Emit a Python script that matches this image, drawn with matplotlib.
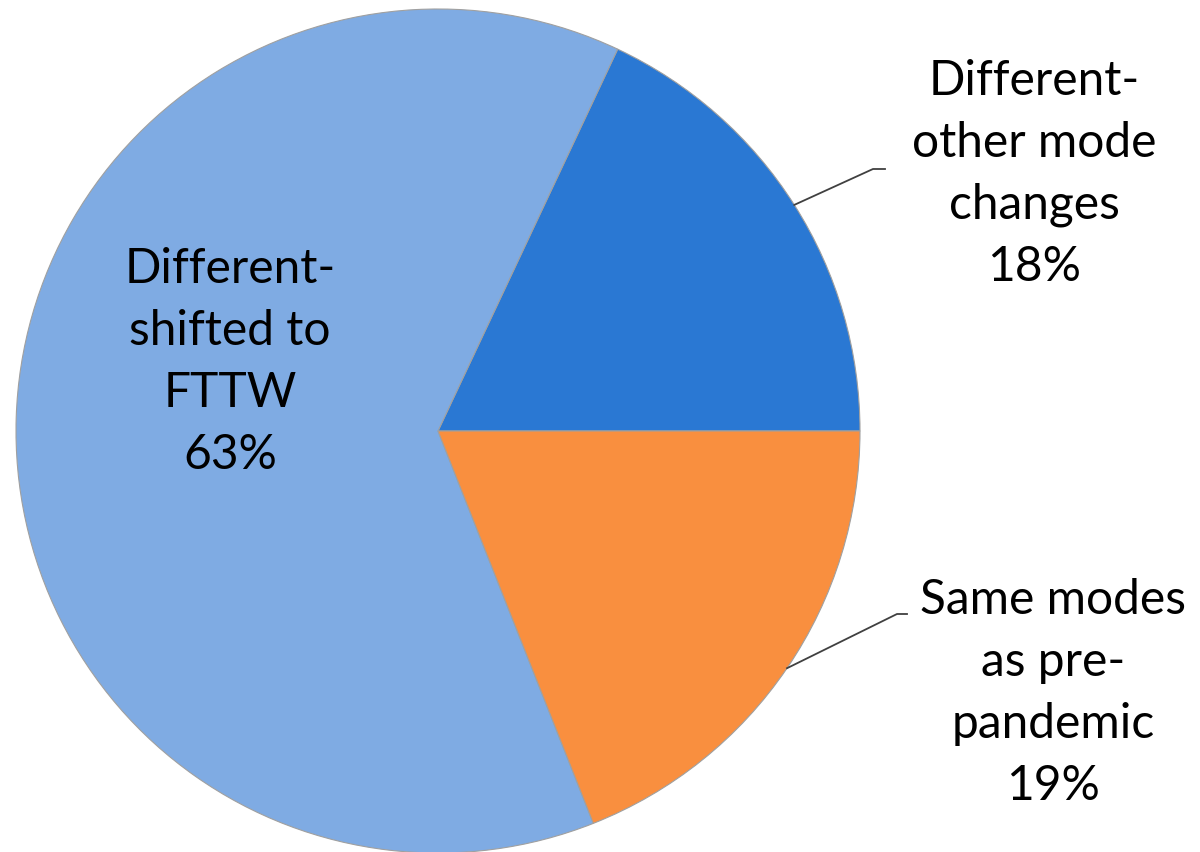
import numpy as np
import matplotlib.pyplot as plt

plt.rcParams['font.family'] = ['Lato', 'DejaVu Sans']

# slices, counter-clockwise from 3 o'clock
labels = ["Different-\nother mode\nchanges", "Different-\nshifted to\nFTTW", "Same modes\nas pre-\npandemic"]
shares = [18, 63, 19]
colors = ["#2A78D3", "#7FABE3", "#F98F3F"]

fig = plt.figure(figsize=(12, 8.53), dpi=100)
ax = fig.add_axes([0, 0, 1, 1])

cx, cy, r = 438, 421, 422
wedges, _ = ax.pie(shares, colors=colors, startangle=0, counterclock=True,
                   center=(cx, cy), radius=r, frame=True,
                   wedgeprops=dict(edgecolor="#A0A0A0", linewidth=0.8))
ax.set_xlim(0, 1200)
ax.set_ylim(0, 853)
ax.set_aspect("equal")
ax.axis("off")

fs = 34.5
ls = 1.5
# inside label for the big slice
ax.text(230, 853 - 362, f"{labels[1]}\n{shares[1]}%", ha="center", va="center",
        fontsize=fs, linespacing=ls, color="black")

# outside labels with leader lines
outside = [(0, (1034, 853 - 174), (873, 853 - 170), (885, 853 - 170)),
           (2, (1053, 853 - 693), (897, 853 - 615), (907, 853 - 615))]
for i, (tx, ty), elbow, end in outside:
    w = wedges[i]
    mid = np.deg2rad((w.theta1 + w.theta2) / 2)
    px, py = cx + r * np.cos(mid), cy + r * np.sin(mid)
    ax.plot([px, elbow[0], end[0]], [py, elbow[1], end[1]], color="#404040", lw=1.3)
    ax.text(tx, ty, f"{labels[i]}\n{shares[i]}%", ha="center", va="center",
            fontsize=fs, linespacing=ls, color="black")

fig.savefig("out.png", dpi=100)
